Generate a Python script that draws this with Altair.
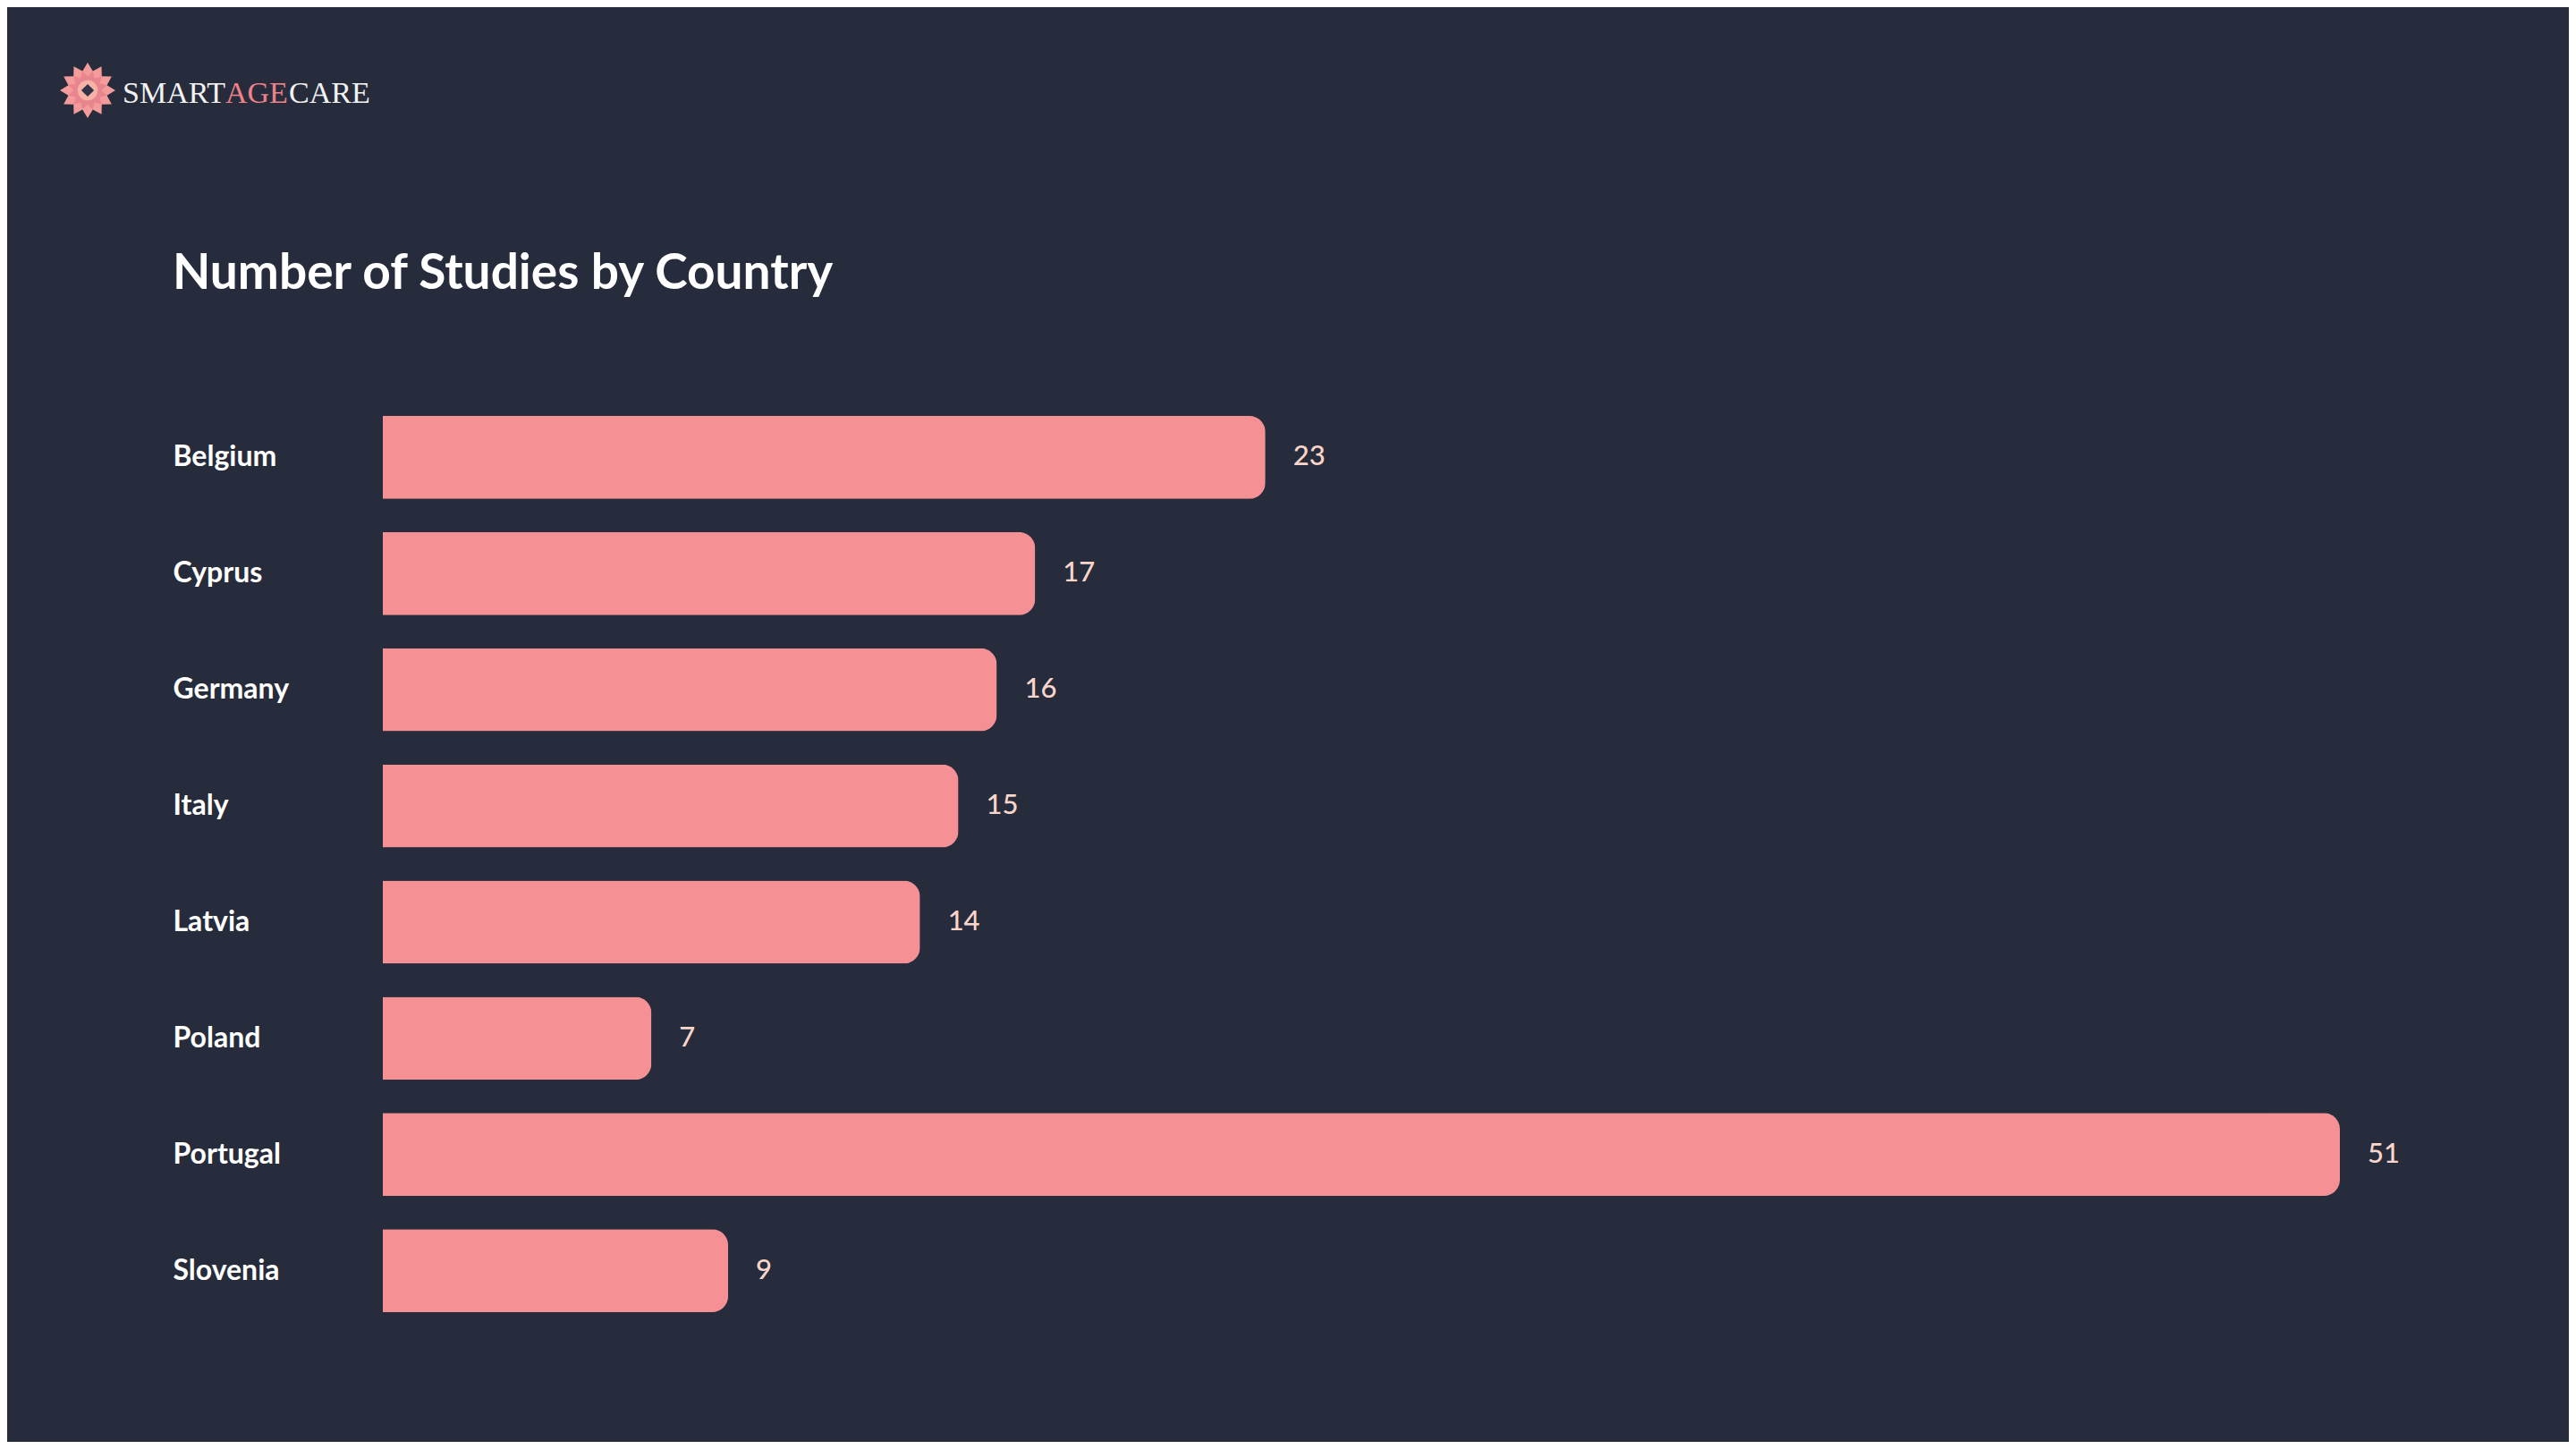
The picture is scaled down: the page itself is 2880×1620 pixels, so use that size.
import math
import altair as alt
import pandas as pd

# ---- data ----
countries = ["Belgium", "Cyprus", "Germany", "Italy", "Latvia", "Poland", "Portugal", "Slovenia"]
studies = [23, 17, 16, 15, 14, 7, 51, 9]

title_text = "Number of Studies by Country"
logo_parts = ["SMART", "AGE", "CARE"]

BG = "#262C3B"
BAR = "#F59095"
VAL = "#F9D5CC"

df = pd.DataFrame({"Country": countries, "Studies": studies})


def star_path(n, r_in, rot=0.0, scale=1.0):
    pts = []
    for i in range(2 * n):
        r = (1.0 if i % 2 == 0 else r_in) * scale
        a = rot + math.pi * i / n - math.pi / 2
        pts.append((r * math.cos(a), r * math.sin(a)))
    return "M" + " L".join(f"{x:.4f},{y:.4f}" for x, y in pts) + " Z"


base = alt.Chart(df).encode(
    y=alt.Y(
        "Country:N",
        sort=None,
        title=None,
        scale=alt.Scale(paddingInner=0.286, paddingOuter=0),
        axis=alt.Axis(
            labelAlign="left",
            labelPadding=235,
            ticks=False,
            tickSize=0,
            domain=False,
            grid=False,
            labelColor="#FFFFFF",
            labelFont="Lato",
            labelFontWeight="bold",
            labelFontSize=32,
        ),
    ),
    x=alt.X("Studies:Q", title=None, axis=None, scale=alt.Scale(nice=False, zero=True)),
)

bars = base.mark_bar(color=BAR, cornerRadiusTopRight=18, cornerRadiusBottomRight=18)
values = base.mark_text(
    align="left", baseline="middle", dx=31, color=VAL, font="Lato", fontSize=31, fontWeight=500
).encode(text="Studies:Q")

one = pd.DataFrame({"k": [0]})
logo_star1 = alt.Chart(one).mark_point(
    shape=star_path(12, 0.72), filled=True, color="#F49C9B", opacity=1, strokeWidth=0
).encode(x=alt.value(-330), y=alt.value(-364), size=alt.value(3844))
logo_star2 = alt.Chart(one).mark_point(
    shape=star_path(12, 0.70, rot=math.pi / 12, scale=0.72), filled=True, color="#E9858E", opacity=1, strokeWidth=0
).encode(x=alt.value(-330), y=alt.value(-364), size=alt.value(3844))
logo_ring = alt.Chart(one).mark_point(
    shape="circle", filled=True, color="#F6B2A6", opacity=1, strokeWidth=0
).encode(x=alt.value(-330), y=alt.value(-364), size=alt.value(500))
logo_center = alt.Chart(one).mark_point(
    shape="diamond", filled=True, color="#2E3446", opacity=1, strokeWidth=0
).encode(x=alt.value(-330), y=alt.value(-364), size=alt.value(200))

logo_cols = ["#F2F2F2", "#F0808A", "#F2F2F2"]
logo_x = [-291, -176, -105]
logo_texts = []
for part, col, xx in zip(logo_parts, logo_cols, logo_x):
    logo_texts.append(
        alt.Chart(one).mark_text(
            align="left", baseline="alphabetic", font="Liberation Serif", fontSize=34, color=col
        ).encode(x=alt.value(xx), y=alt.value(-350), text=alt.value(part))
    )

chart = alt.layer(
    bars, values, logo_star1, logo_star2, logo_ring, logo_center, *logo_texts
).properties(
    width=2188,
    height=1002,
    title=alt.TitleParams(
        title_text,
        anchor="start",
        frame="group",
        dx=-235,
        dy=308,
        offset=0,
        baseline="alphabetic",
        font="Lato",
        fontSize=55,
        fontWeight="bold",
        color="#FFFFFF",
    ),
    background=BG,
    padding={"left": 420, "top": 457, "right": 256, "bottom": 145},
    autosize=alt.AutoSizeParams(type="none"),
).configure_view(stroke=None)

chart.save("out.html", embed_options={"renderer": "svg", "actions": False})
